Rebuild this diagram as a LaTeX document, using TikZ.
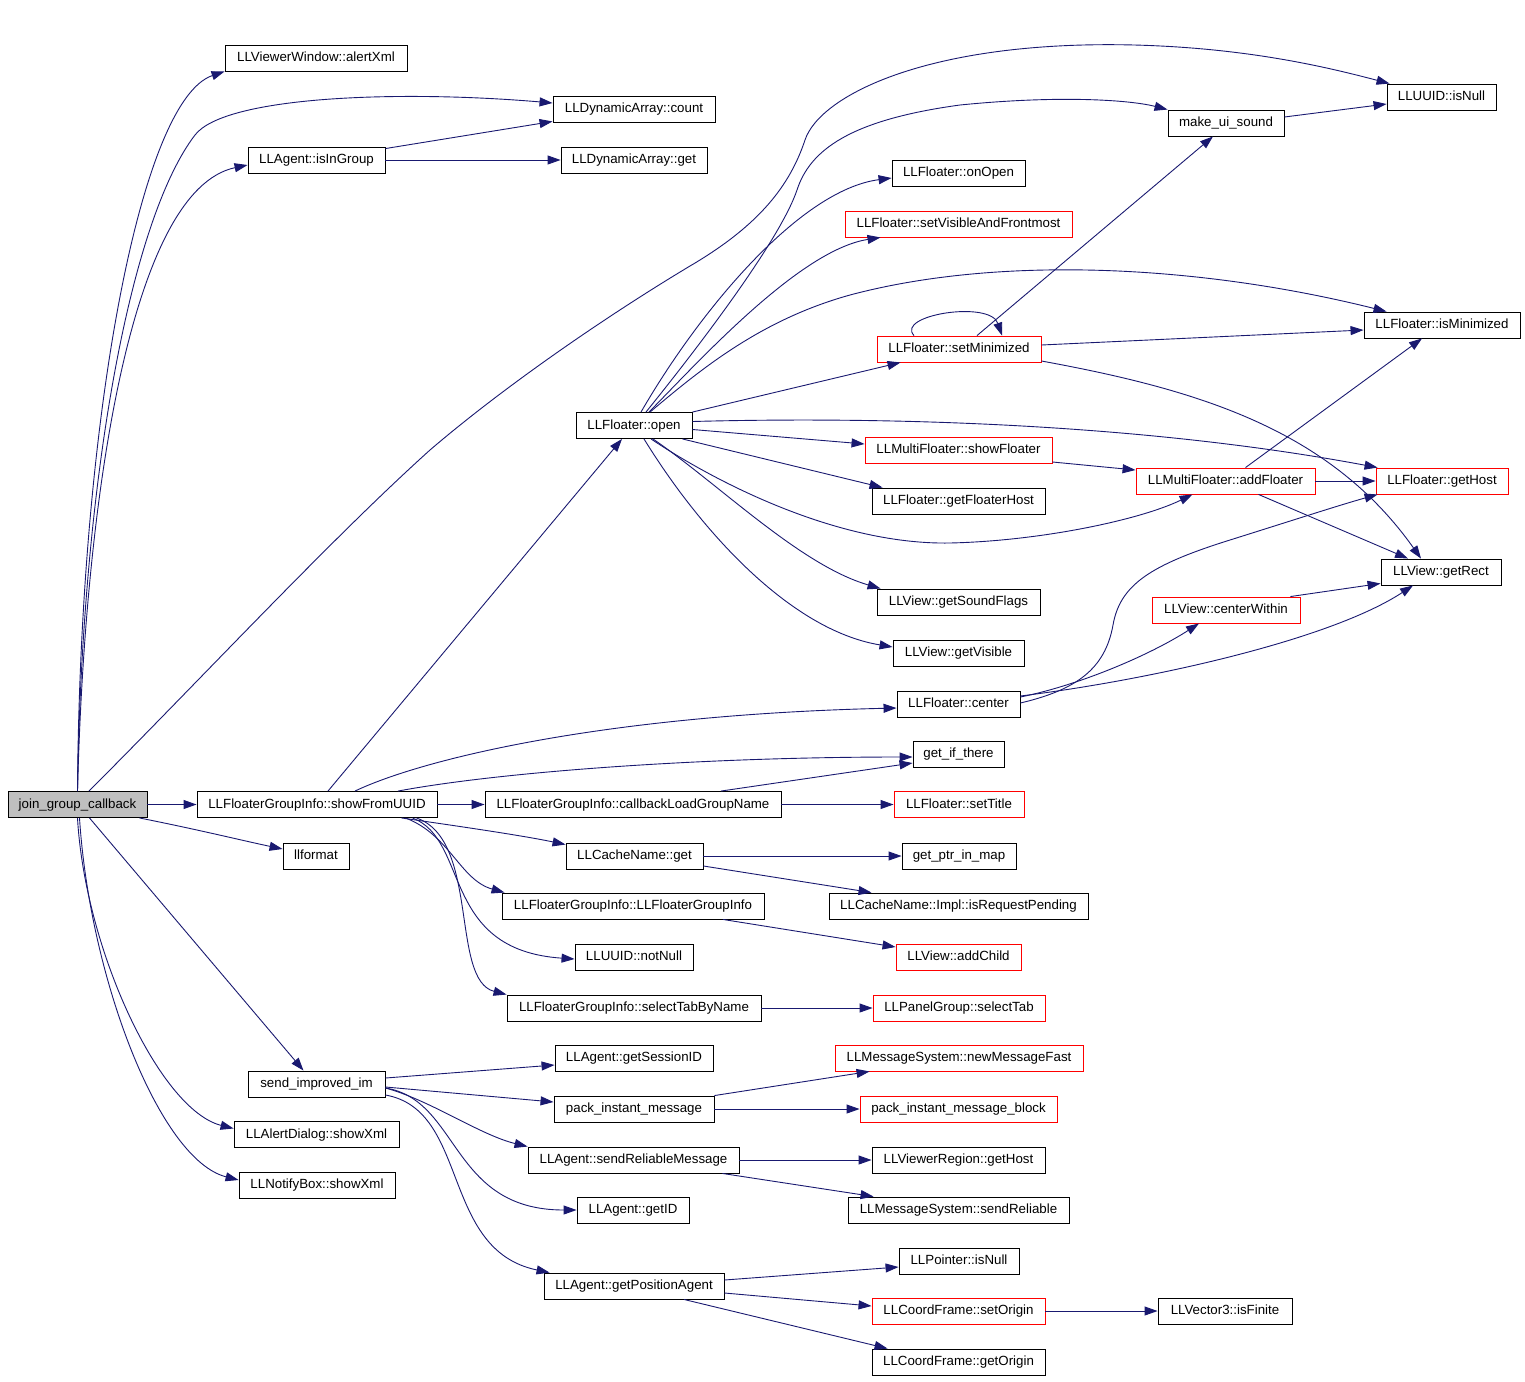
\documentclass[tikz,border=0pt]{standalone}
\usepackage{fontspec}
\setmainfont{Liberation Sans}
\usepackage{tikz}
\usetikzlibrary{arrows.meta}
\definecolor{edgeblue}{HTML}{191970}
\definecolor{rootgray}{HTML}{BFBFBF}
\tikzstyle{fnnode}=[draw, rectangle, minimum height=26, inner sep=0, text height=9.5pt, text depth=2.5pt, font=\fontsize{13.3}{16}\selectfont]
\tikzstyle{rednode}=[fnnode, draw=red]
\tikzstyle{rootnode}=[fnnode, fill=rootgray]
\tikzstyle{callline}=[draw=edgeblue, ->]
\begin{document}
\begin{tikzpicture}[x=1pt, y=-1pt, line width=0.9pt, >={Triangle[length=13pt,width=9pt]}]
\useasboundingbox (0,0) rectangle (1525,1381);
\node[rootnode, minimum width=139] (joincb) at (77.5,804.5) {join\_group\_callback};
\node[fnnode, minimum width=182] (alertxml) at (316,58) {LLViewerWindow::alertXml};
\node[fnnode, minimum width=162] (dacount) at (634,109) {LLDynamicArray::count};
\node[fnnode, minimum width=137] (isingroup) at (316.5,160) {LLAgent::isInGroup};
\node[fnnode, minimum width=146] (daget) at (634,160) {LLDynamicArray::get};
\node[fnnode, minimum width=109] (uuidisnull) at (1441.5,97) {LLUUID::isNull};
\node[fnnode, minimum width=116] (uisound) at (1226,123) {make\_ui\_sound};
\node[fnnode, minimum width=133] (onopen) at (958.5,173) {LLFloater::onOpen};
\node[rednode, minimum width=227] (setvisible) at (958.5,224) {LLFloater::setVisibleAndFrontmost};
\node[fnnode, minimum width=156] (isminimized) at (1442,325) {LLFloater::isMinimized};
\node[rednode, minimum width=164] (setminimized) at (959,349) {LLFloater::setMinimized};
\node[fnnode, minimum width=116] (open) at (634,425.5) {LLFloater::open};
\node[rednode, minimum width=187] (showfloater) at (958.5,450) {LLMultiFloater::showFloater};
\node[rednode, minimum width=179] (addfloater) at (1225.5,481) {LLMultiFloater::addFloater};
\node[rednode, minimum width=132] (gethost) at (1442,481) {LLFloater::getHost};
\node[fnnode, minimum width=173] (floaterhost) at (958.5,501) {LLFloater::getFloaterHost};
\node[fnnode, minimum width=120] (getrect) at (1441,572) {LLView::getRect};
\node[fnnode, minimum width=163] (soundflags) at (958.5,602) {LLView::getSoundFlags};
\node[rednode, minimum width=148] (centerwithin) at (1226,610) {LLView::centerWithin};
\node[fnnode, minimum width=131] (getvisible) at (958.5,653) {LLView::getVisible};
\node[fnnode, minimum width=123] (floatcenter) at (958.5,704) {LLFloater::center};
\node[fnnode, minimum width=91] (getifthere) at (958.5,754) {get\_if\_there};
\node[fnnode, minimum width=240] (showuuid) at (317,804.5) {LLFloaterGroupInfo::showFromUUID};
\node[fnnode, minimum width=296] (loadname) at (633,804.5) {LLFloaterGroupInfo::callbackLoadGroupName};
\node[rednode, minimum width=130] (settitle) at (959,804.5) {LLFloater::setTitle};
\node[fnnode, minimum width=66] (llformat) at (316,856) {llformat};
\node[fnnode, minimum width=137] (cacheget) at (634.5,856) {LLCacheName::get};
\node[fnnode, minimum width=114] (ptrinmap) at (959,856) {get\_ptr\_in\_map};
\node[fnnode, minimum width=262] (groupinfo) at (633,906) {LLFloaterGroupInfo::LLFloaterGroupInfo};
\node[fnnode, minimum width=259] (reqpending) at (958.5,906) {LLCacheName::Impl::isRequestPending};
\node[fnnode, minimum width=118] (notnull) at (634,957) {LLUUID::notNull};
\node[rednode, minimum width=125] (addchild) at (958.5,957) {LLView::addChild};
\node[fnnode, minimum width=254] (selectbyname) at (634,1008) {LLFloaterGroupInfo::selectTabByName};
\node[rednode, minimum width=172] (selecttab) at (959,1008) {LLPanelGroup::selectTab};
\node[fnnode, minimum width=158] (sessionid) at (634,1058) {LLAgent::getSessionID};
\node[rednode, minimum width=248] (newmsgfast) at (959,1058) {LLMessageSystem::newMessageFast};
\node[fnnode, minimum width=137] (sendim) at (316.5,1084) {send\_improved\_im};
\node[fnnode, minimum width=160] (packim) at (634,1109) {pack\_instant\_message};
\node[rednode, minimum width=197] (packblock) at (958.5,1109) {pack\_instant\_message\_block};
\node[fnnode, minimum width=165] (alertshow) at (316.5,1134.5) {LLAlertDialog::showXml};
\node[fnnode, minimum width=211] (sendrelmsg) at (633.5,1160) {LLAgent::sendReliableMessage};
\node[fnnode, minimum width=173] (regionhost) at (958.5,1160) {LLViewerRegion::getHost};
\node[fnnode, minimum width=156] (notifyshow) at (317,1185) {LLNotifyBox::showXml};
\node[fnnode, minimum width=112] (agentid) at (633,1210) {LLAgent::getID};
\node[fnnode, minimum width=221] (sendrel) at (958.5,1210) {LLMessageSystem::sendReliable};
\node[fnnode, minimum width=120] (ptrisnull) at (959,1261) {LLPointer::isNull};
\node[fnnode, minimum width=180] (posagent) at (634,1286) {LLAgent::getPositionAgent};
\node[rednode, minimum width=173] (setorigin) at (958.5,1311) {LLCoordFrame::setOrigin};
\node[fnnode, minimum width=134] (isfinite) at (1225,1311) {LLVector3::isFinite};
\node[fnnode, minimum width=173] (getorigin) at (958.5,1362) {LLCoordFrame::getOrigin};
\draw[callline] (joincb.north) .. controls (80,420) and (140,100) .. (alertxml.south west);
\draw[callline] (joincb.north) .. controls (82,480) and (130,220) .. (195,135) .. controls (225,96) and (400,90) .. ([yshift=6]dacount.west);
\draw[callline] (joincb.north) .. controls (85,500) and (130,190) .. ([yshift=-5]isingroup.west);
\draw[callline] ([xshift=11.5]joincb.north) .. controls (200,680) and (330,540) .. (430,450) .. controls (500,390) and (600,320) .. (690,266) .. controls (760,225) and (790,185) .. (805,140) .. controls (820,95) and (930,40) .. (1134,45) .. controls (1250,48) and (1330,68) .. ([xshift=3]uuidisnull.north west);
\draw[callline] (joincb.east) -- (showuuid.west);
\draw[callline] ([xshift=-8]joincb.south east) .. controls (200,830) and (240,840) .. ([yshift=7]llformat.west);
\draw[callline] ([xshift=12]joincb.south) -- ([xshift=-13]sendim.north);
\draw[callline] (joincb.south) .. controls (85,950) and (160,1110) .. ([yshift=6]alertshow.west);
\draw[callline] ([xshift=2]joincb.south) .. controls (90,980) and (160,1160) .. ([yshift=5]notifyshow.west);
\draw[callline] ([yshift=-2]isingroup.north east) -- ([yshift=1]dacount.south west);
\draw[callline] (isingroup.east) -- (daget.west);
\draw[callline] ([yshift=6]uisound.east) -- ([yshift=-7]uuidisnull.west);
\draw[callline] ([xshift=11]showuuid.north) -- ([xshift=-12]open.south);
\draw[callline] ([xshift=38]showuuid.north) .. controls (420,760) and (600,715) .. ([yshift=-4]floatcenter.west);
\draw[callline] ([xshift=81]showuuid.north) .. controls (500,772) and (700,757) .. ([yshift=-3]getifthere.west);
\draw[callline] (showuuid.east) -- (loadname.west);
\draw[callline] ([xshift=-36]showuuid.south east) .. controls (450,825) and (520,835) .. ([yshift=-2]cacheget.north west);
\draw[callline] ([xshift=-32]showuuid.south east) .. controls (450,835) and (460,880) .. ([xshift=3]groupinfo.north west);
\draw[callline] ([xshift=-25]showuuid.south east) .. controls (470,840) and (440,950) .. ([yshift=-2]notnull.west);
\draw[callline] ([xshift=-21]showuuid.south east) .. controls (480,840) and (450,980) .. (selectbyname.north west);
\draw[callline] ([xshift=88]loadname.north) -- ([yshift=-9]getifthere.west);
\draw[callline] (loadname.east) -- (settitle.west);
\draw[callline] (cacheget.east) -- (ptrinmap.west);
\draw[callline] ([yshift=-10]cacheget.east) -- ([xshift=-87]reqpending.north);
\draw[callline] ([xshift=90]groupinfo.south) -- ([yshift=10]addchild.west);
\draw[callline] (selectbyname.east) -- (selecttab.west);
\draw[callline] ([xshift=7]open.north) .. controls (700,310) and (800,190) .. ([yshift=-5]onopen.west);
\draw[callline] ([xshift=12]open.north) .. controls (700,345) and (780,240) .. (797,190) .. controls (810,150) and (850,120) .. (960,105) .. controls (1060,95) and (1130,100) .. (uisound.north west);
\draw[callline] ([xshift=15]open.north) .. controls (700,360) and (800,250) .. ([xshift=-78]setvisible.south);
\draw[callline] ([xshift=16]open.north) .. controls (700,370) and (760,320) .. (850,295) .. controls (1000,255) and (1200,265) .. ([xshift=23]isminimized.north west);
\draw[callline] (open.north east) -- ([xshift=24]setminimized.south west);
\draw[callline] ([yshift=4]open.east) .. controls (900,416) and (1150,425) .. ([xshift=2]gethost.north west);
\draw[callline] ([yshift=-4]open.east) -- ([yshift=6]showfloater.west);
\draw[callline] ([xshift=-10]open.south east) -- ([xshift=11]floaterhost.north west);
\draw[callline] ([xshift=17]open.south) .. controls (720,485) and (840,545) .. (950,543) .. controls (1040,541) and (1140,520) .. ([xshift=-33]addfloater.south);
\draw[callline] ([xshift=19]open.south) .. controls (720,485) and (800,565) .. ([xshift=4]soundflags.north west);
\draw[callline] ([xshift=10]open.south) .. controls (700,530) and (790,630) .. ([yshift=6]getvisible.west);
\draw[callline] ([xshift=-45]setminimized.north) .. controls (895,315) and (990,300) .. ([xshift=43]setminimized.north);
\draw[callline] ([xshift=18]setminimized.north) -- ([xshift=-13]uisound.south);
\draw[callline] ([yshift=4]setminimized.east) -- ([yshift=-5]isminimized.west);
\draw[callline] ([yshift=-12]setminimized.east) .. controls (1200,390) and (1330,430) .. ([xshift=-20]getrect.north);
\draw[callline] ([yshift=-12]showfloater.east) -- ([yshift=11]addfloater.west);
\draw[callline] (addfloater.east) -- (gethost.west);
\draw[callline] ([xshift=20]addfloater.north) -- ([xshift=-20]isminimized.south);
\draw[callline] ([xshift=33]addfloater.south) -- ([xshift=-33]getrect.north);
\draw[callline] ([xshift=-10]centerwithin.north east) -- ([yshift=2]getrect.south west);
\draw[callline] ([yshift=1]floatcenter.east) .. controls (1075,690) and (1105,670) .. (1113,625) .. controls (1120,585) and (1150,565) .. (1230,540) .. controls (1300,518) and (1340,505) .. ([xshift=2]gethost.south west);
\draw[callline] ([yshift=7]floatcenter.east) .. controls (1080,685) and (1150,655) .. ([xshift=-27]centerwithin.south);
\draw[callline] ([yshift=8]floatcenter.east) .. controls (1150,680) and (1330,640) .. ([xshift=-28]getrect.south);
\draw[callline] ([yshift=6]sendim.east) -- ([yshift=-7]sessionid.west);
\draw[callline] ([yshift=-3]sendim.east) -- ([yshift=7]packim.west);
\draw[callline] ([yshift=-4]sendim.east) .. controls (430,1100) and (480,1135) .. (sendrelmsg.north west);
\draw[callline] ([yshift=-4]sendim.east) .. controls (460,1100) and (450,1210) .. (agentid.west);
\draw[callline] ([yshift=-11]sendim.east) .. controls (470,1110) and (440,1250) .. ([xshift=6]posagent.north west);
\draw[callline] (packim.north east) -- ([xshift=35]newmsgfast.south west);
\draw[callline] (packim.east) -- (packblock.west);
\draw[callline] (sendrelmsg.east) -- (regionhost.west);
\draw[callline] ([xshift=-17]sendrelmsg.south east) -- ([xshift=26]sendrel.north west);
\draw[callline] ([yshift=6]posagent.east) -- ([yshift=-6]ptrisnull.west);
\draw[callline] ([yshift=-7]posagent.east) -- ([yshift=5]setorigin.west);
\draw[callline] ([xshift=50]posagent.south) -- ([xshift=16]getorigin.north west);
\draw[callline] (setorigin.east) -- (isfinite.west);
\end{tikzpicture}
\end{document}
